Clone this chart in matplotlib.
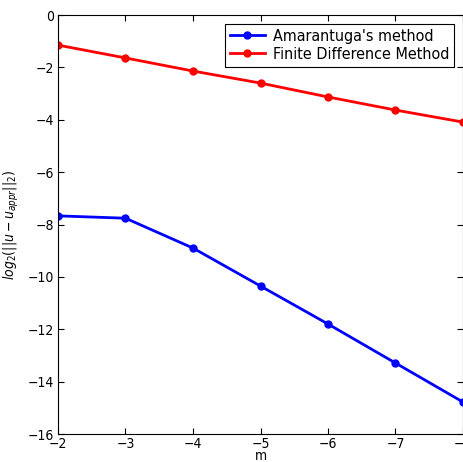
import matplotlib
matplotlib.use("Agg")
import matplotlib.pyplot as plt

m = [-2, -3, -4, -5, -6, -7, -8]
amarantuga = [-7.67, -7.76, -8.90, -10.35, -11.80, -13.29, -14.78]
finite_diff = [-1.15, -1.64, -2.14, -2.60, -3.13, -3.63, -4.09]

plt.rcParams['font.family'] = ['DejaVu Sans']
plt.rcParams['font.stretch'] = 'condensed'
plt.rcParams['mathtext.fontset'] = 'dejavusans'

fig = plt.figure(figsize=(4.64, 4.62), dpi=100)
ax = fig.add_axes([58/464, (462-434)/462, (463-58)/464, (434-15)/462])
ax.plot(m, amarantuga, 'b-o', lw=2, ms=5, mec='b', label="Amarantuga's method")
ax.plot(m, finite_diff, 'r-o', lw=2, ms=5, mec='r', label="Finite Difference Method")
ax.set_xlim(-2, -8)
ax.set_ylim(-16, 0)
ax.set_xticks(m)
ax.set_yticks(range(-16, 1, 2))
ax.tick_params(direction='in', labelsize=10, length=4, pad=3)
ax.tick_params(axis='x', pad=2)
ax.tick_params(top=True, right=True)
ax.set_xlabel("m", fontsize=10, labelpad=-1)
ax.set_ylabel(r"$log_2(||u - u_{appr}||_2)$", fontsize=10, labelpad=5)
leg = ax.legend(loc='upper right', fontsize=11.5, fancybox=False, framealpha=1,
                edgecolor='black', handlelength=2.2, borderpad=0.3, labelspacing=0.2,
                handletextpad=0.5, borderaxespad=0.55)
leg.get_frame().set_linewidth(0.8)
fig.savefig("out.png", dpi=100)
